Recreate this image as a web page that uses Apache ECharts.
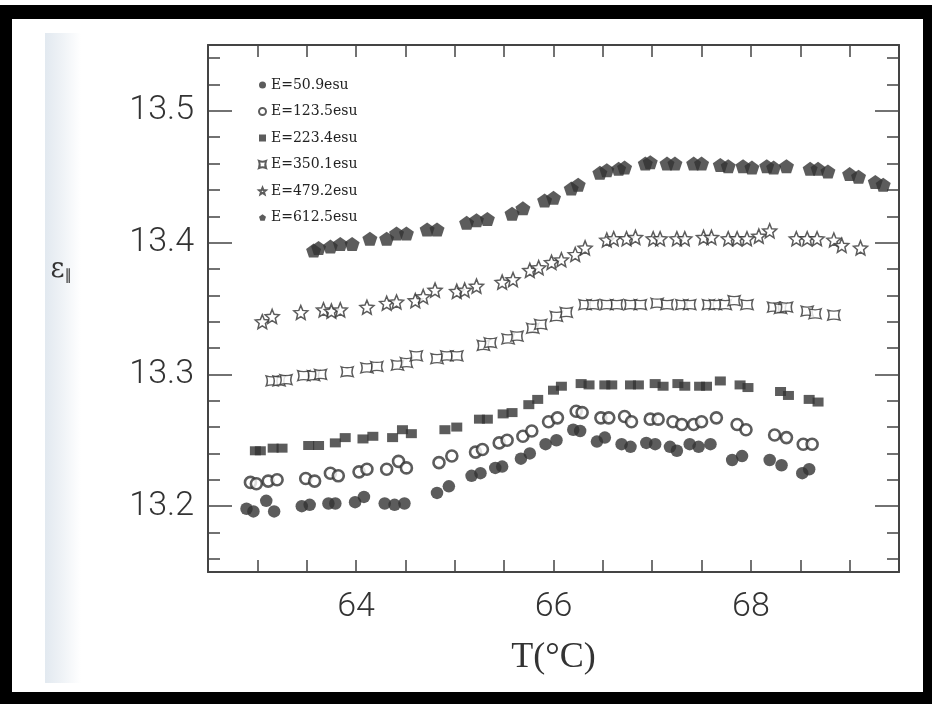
<!DOCTYPE html>
<html><head><meta charset="utf-8">
<script src="https://cdn.jsdelivr.net/npm/echarts@6/dist/echarts.min.js"></script>
<style>
html,body{margin:0;padding:0;background:#fff;}
#wrap{position:relative;width:932px;height:704px;overflow:hidden;background:#fff;}
.bk{position:absolute;background:#000;}
#scan{position:absolute;left:45px;top:33px;width:36px;height:650px;background:linear-gradient(to right,#e2e9f0,#eef2f6 45%,rgba(255,255,255,0));}
#chart{position:absolute;left:0;top:0;width:932px;height:704px;}
</style></head><body>
<div id="wrap">
<div id="scan"></div>
<div class="bk" style="left:0;top:5px;width:932px;height:14px"></div>
<div class="bk" style="left:0;top:5px;width:12px;height:699px"></div>
<div class="bk" style="left:923px;top:5px;width:9px;height:699px"></div>
<div class="bk" style="left:0;top:692px;width:932px;height:12px"></div>
<div id="chart"></div>
</div>
<script>
// ---- data: [T (°C), epsilon_parallel] ----
const seriesNames = ['E=50.9esu','E=123.5esu','E=223.4esu','E=350.1esu','E=479.2esu','E=612.5esu'];
const e509 = [[62.89,13.198],[62.96,13.196],[63.09,13.204],[63.17,13.196],[63.45,13.200],[63.53,13.201],[63.72,13.202],[63.79,13.202],[63.99,13.203],[64.08,13.207],[64.29,13.202],[64.39,13.201],[64.49,13.202],[64.82,13.210],[64.94,13.215],[65.17,13.223],[65.26,13.225],[65.41,13.229],[65.48,13.230],[65.67,13.236],[65.76,13.240],[65.92,13.247],[66.03,13.250],[66.20,13.258],[66.27,13.257],[66.44,13.249],[66.52,13.252],[66.69,13.247],[66.78,13.245],[66.94,13.248],[67.03,13.247],[67.18,13.245],[67.25,13.242],[67.38,13.247],[67.47,13.245],[67.59,13.247],[67.81,13.235],[67.91,13.238],[68.19,13.235],[68.31,13.231],[68.52,13.225],[68.59,13.228]];
const e1235 = [[62.93,13.218],[62.99,13.217],[63.11,13.219],[63.20,13.220],[63.49,13.221],[63.58,13.219],[63.74,13.225],[63.82,13.223],[64.03,13.226],[64.11,13.228],[64.31,13.228],[64.43,13.234],[64.51,13.229],[64.84,13.233],[64.97,13.238],[65.21,13.241],[65.28,13.243],[65.45,13.248],[65.53,13.250],[65.69,13.253],[65.78,13.257],[65.95,13.264],[66.04,13.267],[66.23,13.272],[66.29,13.271],[66.48,13.267],[66.56,13.267],[66.72,13.268],[66.79,13.264],[66.98,13.266],[67.06,13.266],[67.21,13.264],[67.30,13.262],[67.42,13.262],[67.50,13.264],[67.65,13.267],[67.86,13.262],[67.95,13.258],[68.24,13.254],[68.36,13.252],[68.53,13.247],[68.62,13.247]];
const e2234 = [[62.98,13.242],[63.03,13.242],[63.16,13.244],[63.25,13.244],[63.52,13.246],[63.62,13.246],[63.79,13.248],[63.89,13.252],[64.07,13.251],[64.17,13.253],[64.37,13.252],[64.47,13.258],[64.56,13.255],[64.90,13.258],[65.02,13.260],[65.25,13.266],[65.33,13.266],[65.49,13.270],[65.58,13.271],[65.75,13.277],[65.84,13.281],[66.00,13.288],[66.08,13.291],[66.28,13.293],[66.36,13.292],[66.52,13.292],[66.59,13.292],[66.78,13.292],[66.86,13.292],[67.03,13.293],[67.11,13.291],[67.26,13.293],[67.33,13.291],[67.48,13.291],[67.55,13.291],[67.69,13.295],[67.89,13.292],[67.97,13.290],[68.30,13.287],[68.38,13.284],[68.59,13.281],[68.68,13.279]];
const e3501 = [[63.15,13.295],[63.22,13.295],[63.29,13.296],[63.47,13.299],[63.57,13.299],[63.64,13.300],[63.91,13.302],[64.11,13.305],[64.21,13.306],[64.42,13.307],[64.51,13.309],[64.61,13.314],[64.82,13.312],[64.92,13.314],[65.02,13.314],[65.29,13.322],[65.36,13.324],[65.54,13.327],[65.63,13.329],[65.79,13.335],[65.87,13.338],[66.03,13.344],[66.13,13.347],[66.32,13.353],[66.40,13.353],[66.54,13.353],[66.64,13.353],[66.78,13.353],[66.88,13.353],[67.05,13.354],[67.15,13.353],[67.30,13.353],[67.38,13.353],[67.57,13.353],[67.64,13.353],[67.74,13.353],[67.83,13.356],[67.96,13.353],[68.23,13.351],[68.30,13.350],[68.36,13.351],[68.57,13.348],[68.65,13.346],[68.84,13.345]];
const e4792 = [[63.05,13.340],[63.15,13.344],[63.44,13.347],[63.67,13.349],[63.75,13.348],[63.84,13.349],[64.11,13.351],[64.31,13.354],[64.41,13.355],[64.60,13.356],[64.68,13.359],[64.80,13.364],[65.02,13.363],[65.10,13.364],[65.22,13.367],[65.48,13.370],[65.59,13.372],[65.76,13.379],[65.85,13.381],[65.98,13.385],[66.08,13.387],[66.22,13.391],[66.32,13.396],[66.54,13.402],[66.61,13.403],[66.74,13.403],[66.83,13.404],[67.01,13.403],[67.08,13.403],[67.25,13.403],[67.33,13.403],[67.52,13.404],[67.60,13.404],[67.77,13.403],[67.86,13.403],[67.96,13.403],[68.08,13.405],[68.19,13.409],[68.46,13.403],[68.57,13.403],[68.67,13.403],[68.84,13.402],[68.92,13.398],[69.11,13.396]];
const e6125 = [[63.57,13.394],[63.62,13.396],[63.74,13.397],[63.84,13.399],[63.96,13.399],[64.14,13.403],[64.31,13.403],[64.41,13.407],[64.51,13.407],[64.72,13.410],[64.82,13.410],[65.12,13.415],[65.22,13.417],[65.33,13.418],[65.58,13.422],[65.69,13.426],[65.91,13.432],[66.00,13.434],[66.18,13.441],[66.25,13.444],[66.47,13.453],[66.54,13.455],[66.66,13.456],[66.72,13.457],[66.93,13.460],[66.98,13.461],[67.15,13.460],[67.23,13.460],[67.42,13.460],[67.50,13.460],[67.69,13.459],[67.77,13.458],[67.92,13.458],[68.01,13.457],[68.16,13.458],[68.23,13.457],[68.36,13.458],[68.60,13.456],[68.68,13.456],[68.78,13.454],[69.00,13.452],[69.09,13.450],[69.26,13.446],[69.34,13.444]];

// ---- axis ticks / labels ----
const xRange = [62.5, 69.5];
const xTickStep = 0.5;
const xLabelValues = [64, 66, 68];
const yRange = [13.15, 13.55];
const yLabelValues = [13.2, 13.3, 13.4, 13.5];
const yMinorTicks = [13.16,13.18,13.22,13.24,13.26,13.28,13.32,13.34,13.36,13.38,13.42,13.44,13.46,13.48,13.52,13.54];

const ink = '#333';
const STAR = 'path://M10,0 L12.65,6.36 L19.51,6.91 L14.28,11.39 L15.88,18.09 L10,14.5 L4.12,18.09 L5.72,11.39 L0.49,6.91 L7.35,6.36 Z';
const PENT = 'path://M10,0 L19.51,6.91 L15.88,18.09 L4.12,18.09 L0.49,6.91 Z';
const BOXSTAR = 'path://M0,0 Q10,4 20,0 Q16,10 20,20 Q10,16 0,20 Q4,10 0,0 Z';

const styles = [
  {symbol:'circle', symbolSize:12.5, itemStyle:{color:ink}},
  {symbol:'circle', symbolSize:11, itemStyle:{color:'#fff', borderColor:ink, borderWidth:2.6}},
  {symbol:'rect', symbolSize:[11,9], itemStyle:{color:ink}},
  {symbol:BOXSTAR, symbolSize:[12,10], itemStyle:{color:'#fff', borderColor:ink, borderWidth:1.4}},
  {symbol:STAR, symbolSize:14, itemStyle:{color:'#fff', borderColor:ink, borderWidth:1.5}},
  {symbol:PENT, symbolSize:[15,14], itemStyle:{color:ink}}
];
const datasets = [e509, e1235, e2234, e3501, e4792, e6125];

const labelFont = {fontFamily:'Roboto', fontWeight:300, fontSize:34, color:'#333'};

function yAxisDef(pos, values, len, showLine, showLabel){
  return {
    type:'value', position:pos, min:yRange[0], max:yRange[1],
    axisLine:{show:showLine, lineStyle:{color:'#444', width:2}},
    axisTick:{show:true, inside:true, length:len, customValues:values, lineStyle:{color:'#444', width:1.5}},
    axisLabel: showLabel ? Object.assign({show:true, customValues:yLabelValues, margin:14, formatter:v=>v.toFixed(1)}, labelFont) : {show:false},
    splitLine:{show:false},
    name: showLabel ? '{e|\u03b5}{s|\u2225}' : '',
    nameLocation:'middle', nameRotate:0, nameGap:136,
    nameTextStyle:{padding:[0,0,78,0], rich:{e:{fontFamily:'DejaVu Serif', fontSize:27, color:'#333'}, s:{fontFamily:'DejaVu Sans', fontSize:15, color:'#333', padding:[14,0,0,0]}}}
  };
}
function xAxisDef(pos, showLabel){
  return {
    type:'value', position:pos, min:xRange[0], max:xRange[1], interval:xTickStep,
    axisLine:{show:true, lineStyle:{color:'#444', width:2}},
    axisTick:{show:true, inside:true, length:12, lineStyle:{color:'#444', width:1.5}},
    axisLabel: showLabel ? Object.assign({show:true, customValues:xLabelValues, margin:18}, labelFont) : {show:false},
    splitLine:{show:false},
    name: showLabel ? 'T(\u00b0C)' : '',
    nameLocation:'middle', nameGap:68,
    nameTextStyle:{fontFamily:'Liberation Serif', fontSize:36, color:'#333'}
  };
}

const chart = echarts.init(document.getElementById('chart'), null, {renderer:'canvas'});
chart.setOption({
  backgroundColor:'transparent',
  animation:false,
  grid:{left:208, right:33, top:45, bottom:132, containLabel:false},
  legend:{
    orient:'vertical', left:253, top:72, itemGap:10.5, itemWidth:7, itemHeight:7,
    textStyle:{fontFamily:'DejaVu Serif', fontSize:14, lineHeight:16, color:'#222'},
    data:seriesNames
  },
  xAxis:[xAxisDef('bottom', true), xAxisDef('top', false)],
  yAxis:[
    yAxisDef('left', yLabelValues, 24, true, true),
    yAxisDef('left', yMinorTicks, 12, false, false),
    yAxisDef('right', yLabelValues, 24, true, false),
    yAxisDef('right', yMinorTicks, 12, false, false)
  ],
  series: datasets.map((d,i)=>Object.assign({
    name:seriesNames[i], type:'scatter', xAxisIndex:0, yAxisIndex:0, data:d,
    emphasis:{disabled:true}
  }, styles[i]))
});
</script>
</body></html>
